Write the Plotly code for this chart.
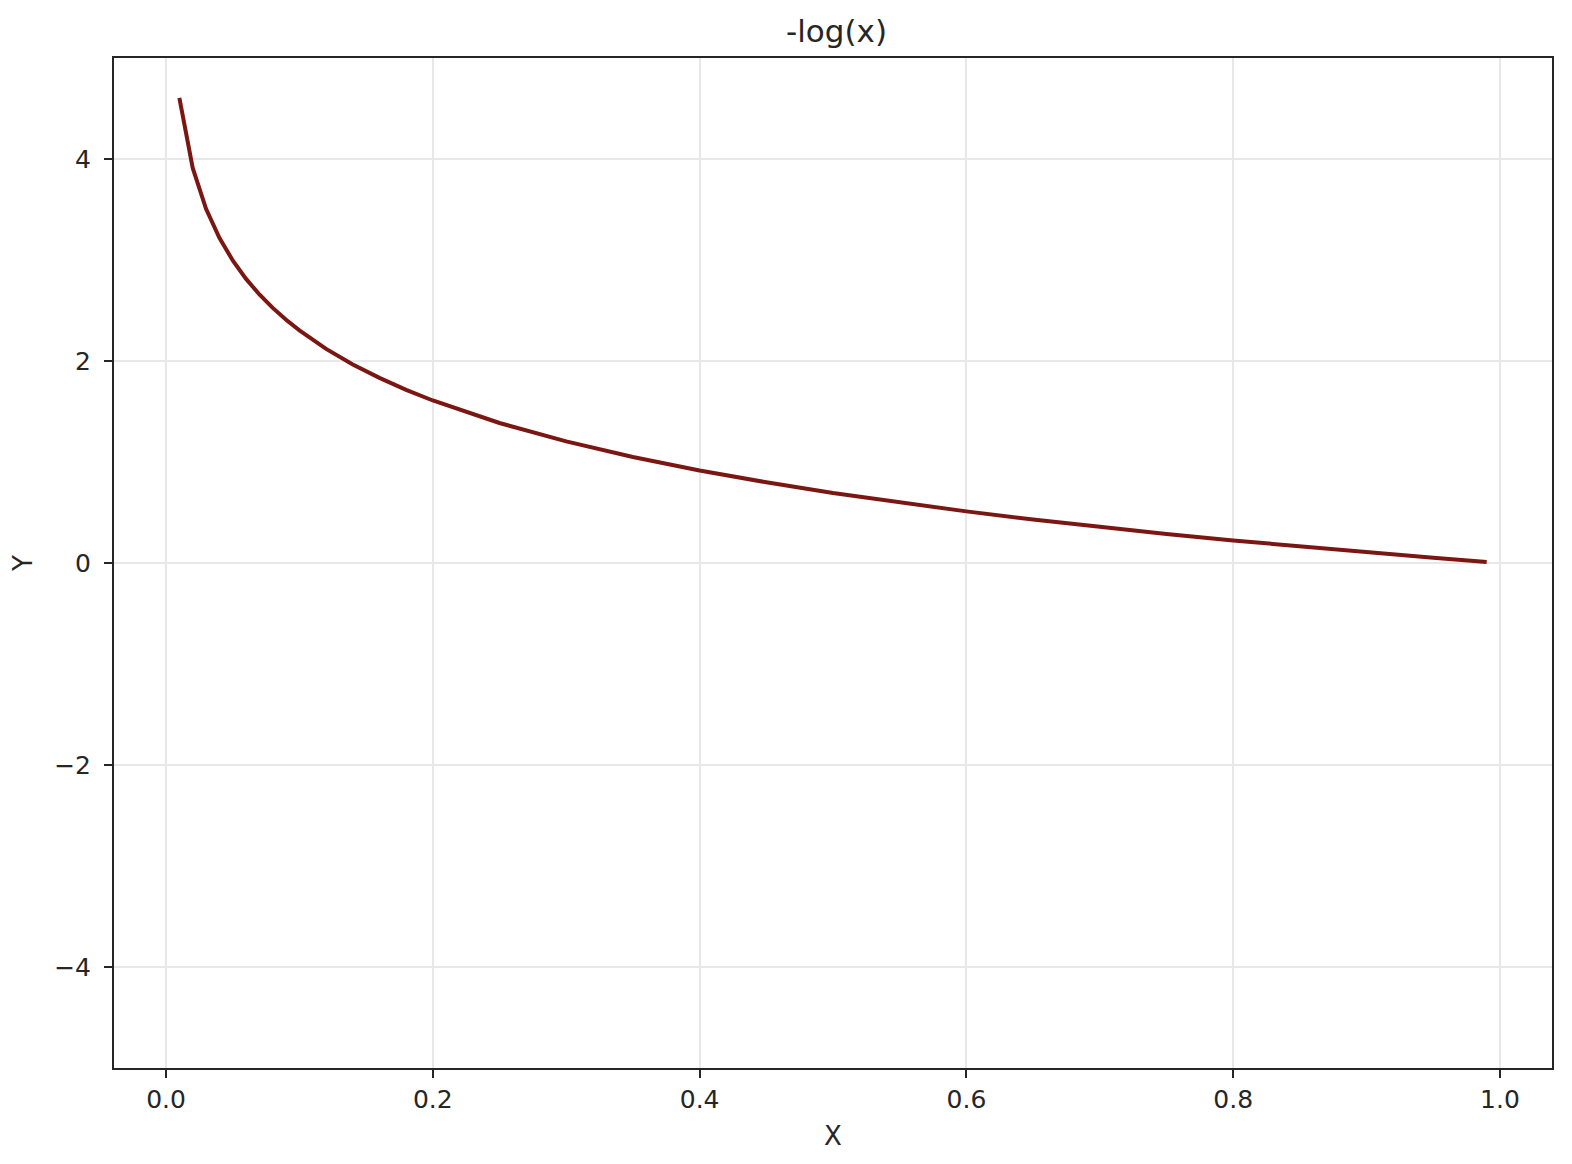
import plotly.graph_objects as go

x_vals = [0.01, 0.02, 0.03, 0.04, 0.05, 0.06, 0.07, 0.08, 0.09, 0.10,
          0.12, 0.14, 0.16, 0.18, 0.20, 0.25, 0.30, 0.35, 0.40, 0.45,
          0.50, 0.55, 0.60, 0.65, 0.70, 0.75, 0.80, 0.85, 0.90, 0.95, 0.99]
y_vals = [4.605, 3.912, 3.507, 3.219, 2.996, 2.813, 2.659, 2.526, 2.408, 2.303,
          2.120, 1.966, 1.833, 1.715, 1.609, 1.386, 1.204, 1.050, 0.916, 0.799,
          0.693, 0.598, 0.511, 0.431, 0.357, 0.288, 0.223, 0.163, 0.105, 0.051, 0.010]
x_ticks = [0.0, 0.2, 0.4, 0.6, 0.8, 1.0]
x_tick_labels = ["0.0", "0.2", "0.4", "0.6", "0.8", "1.0"]
y_ticks = [-4, -2, 0, 2, 4]
y_tick_labels = ["\u22124", "\u22122", "0", "2", "4"]

FONT = "DejaVu Sans"

fig = go.Figure()
fig.add_trace(go.Scatter(x=x_vals, y=y_vals, mode="lines",
                         line=dict(color="#7b1712", width=4),
                         showlegend=False, hoverinfo="x+y"))

axis_common = dict(showline=True, linecolor="#262626", linewidth=2, mirror=True,
                   ticks="outside", ticklen=8, tickwidth=2, tickcolor="#262626",
                   showgrid=True, gridcolor="#e8e8e8", gridwidth=1.5,
                   zeroline=False, tickfont=dict(family=FONT, size=25, color="#262626"))

fig.update_xaxes(range=[-0.039, 1.039], tickvals=x_ticks, ticktext=x_tick_labels,
                 title=dict(text="X", font=dict(family=FONT, size=26, color="#262626"), standoff=14),
                 **axis_common)
fig.update_yaxes(range=[-5, 5], tickvals=y_ticks, ticktext=y_tick_labels,
                 ticklabelstandoff=8,
                 title=dict(text="Y", font=dict(family=FONT, size=26, color="#262626"), standoff=18),
                 **axis_common)

fig.update_layout(
    width=1556, height=1148,
    margin=dict(l=105, r=10, t=50, b=86),
    paper_bgcolor="white", plot_bgcolor="white",
    title=dict(text="-log(x)", x=0.5325, xanchor="center", y=0.9795, yanchor="middle",
               font=dict(family=FONT, size=31, color="#262626")),
    font=dict(family=FONT, color="#262626"),
)

fig.write_html("out.html")
